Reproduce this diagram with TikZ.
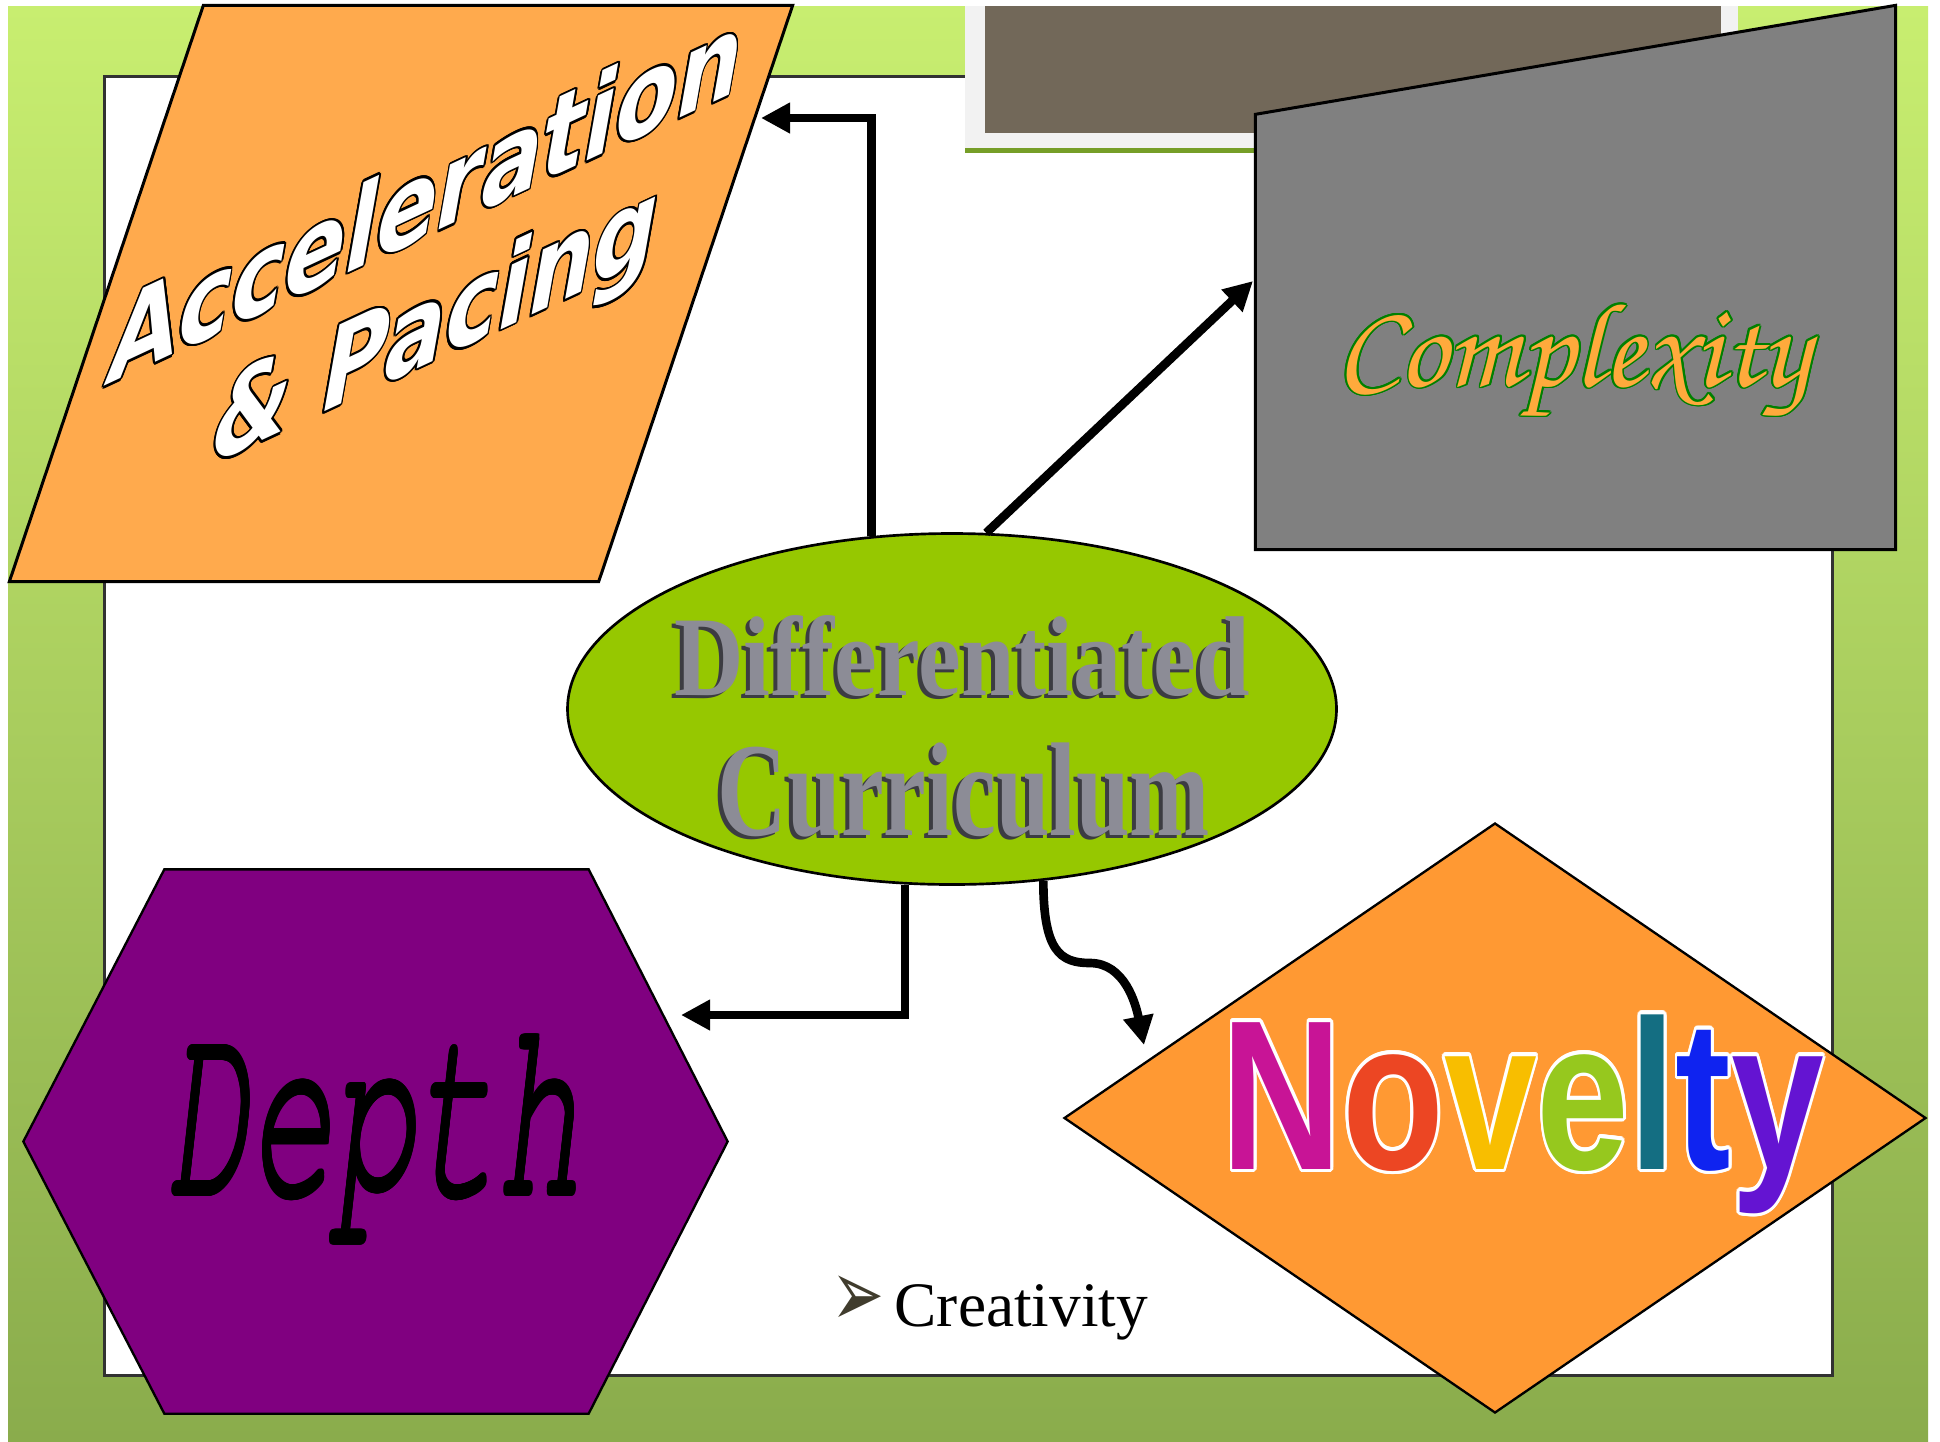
\documentclass[tikz,border=0pt]{standalone}
\usepackage{fontspec}
\setmainfont{Liberation Serif}
\newfontfamily\accfont{Liberation Sans}
\newfontfamily\dejavu{DejaVu Sans}
\usepackage{graphicx}
\usepackage{contour}
\contourlength{0.6pt}
\usetikzlibrary{shapes.geometric, arrows.meta, calc}
\newcommand{\chancery}{\fontencoding{OT1}\fontfamily{pzc}\fontseries{mb}\fontshape{it}\selectfont}
\newcommand{\courier}{\fontencoding{OT1}\fontfamily{pcr}\fontseries{m}\fontshape{sl}\selectfont}

\definecolor{bgtop}{RGB}{200,238,112}
\definecolor{bgbot}{RGB}{138,172,76}
\definecolor{panelline}{RGB}{50,50,50}
\definecolor{framegray}{RGB}{242,242,242}
\definecolor{framegreen}{RGB}{118,158,40}
\definecolor{framebrown}{RGB}{114,104,89}
\definecolor{accorange}{RGB}{255,170,77}
\definecolor{cpxgray}{RGB}{128,128,128}
\definecolor{deppurple}{RGB}{128,0,128}
\definecolor{novorange}{RGB}{255,153,51}
\definecolor{hubgreen}{RGB}{150,200,0}
\definecolor{cxorange}{RGB}{255,170,60}
\definecolor{cxgreen}{RGB}{0,128,0}
\definecolor{nvN}{RGB}{200,20,150}
\definecolor{nvo}{RGB}{236,70,35}
\definecolor{nvv}{RGB}{248,190,0}
\definecolor{nve}{RGB}{150,200,30}
\definecolor{nvl}{RGB}{20,110,130}
\definecolor{nvt}{RGB}{15,35,240}
\definecolor{nvy}{RGB}{100,20,210}
\definecolor{shadowgray}{RGB}{60,60,66}
\definecolor{facegray}{RGB}{140,140,150}
\definecolor{bulletc}{RGB}{64,60,45}

\tikzstyle{hub} = [ellipse, 
minimum width=230.7pt, 
minimum height=105.3pt, 
inner sep=0pt, 
draw=black, line width=0.8pt, 
fill=hubgreen]
\tikzstyle{kite} = [diamond, 
minimum width=258.6pt, 
minimum height=177pt, 
inner sep=0pt, 
draw=black, line width=0.7pt, 
fill=novorange]
\tikzstyle{box} = [rectangle, inner sep=0pt]
\tikzstyle{slantword} = [anchor=base west, inner sep=0pt, rotate=25, xslant=0.7, text=white, 
font=\dejavu\bfseries\fontsize{29.7}{36}\selectfont]
\tikzstyle{arrow} = [line width=2.6pt, -{Triangle[length=8.7pt,width=8.7pt]}]

\begin{document}
\begin{tikzpicture}[x=0.3pt, y=-0.3pt]
	\useasboundingbox (0,0) rectangle (1940,1441);
	\fill[white] (0,0) rectangle (1940,1441);
	
	% slide background and panel
	\shade[top color=bgtop, bottom color=bgbot] (8,6) rectangle (1928,1441);
	\draw[fill=white, draw=panelline, line width=0.9pt] (104,76) rectangle (1832,1375);
	\fill[framegreen] (965,10) rectangle (1738,153);
	\fill[framegray] (965,6) rectangle (1738,148);
	\fill[framebrown] (985,6) rectangle (1721,133);
	
	% shapes
	\node (acc) [box, minimum width=234.6pt, minimum height=172.5pt] at (401,293.5) {};
	\draw[fill=accorange, line width=0.9pt] (acc.south west) -- ($(acc.north west)+(194,0)$) -- (acc.north east) -- ($(acc.south east)+(-194,0)$) -- cycle;
	\node (cpx) [box, minimum width=191.7pt, minimum height=130.2pt] at (1575.5,332) {};
	\draw[fill=cpxgray, line width=0.9pt] (cpx.south west) -- (cpx.north west) -- ($(cpx.north east)+(0,-109)$) -- (cpx.south east) -- cycle;
	\node (dep) [box, minimum width=126.9pt, minimum height=162.9pt] at (376.5,1141.5) {};
	\draw[fill=deppurple, line width=0.7pt] (dep.north west) -- (dep.north east) -- ($(dep.east)+(139,0)$) -- (dep.south east) -- (dep.south west) -- ($(dep.west)+(-141,0)$) -- cycle;
	\node (nov) [kite] at (1495,1118) {};
	\node (dc) [hub] at (952,709) {};
	
	% texts
	\node (acctext) [slantword] at (103,387) {\contour{black}{Acceleration}};
	\node (pactext) [slantword] at (206,467) {\contour{black}{\& Pacing}};
	\node (cpxtext) [anchor=base, inner sep=0pt] at (1573,386)
		{\resizebox{142pt}{!}{\chancery\fontsize{40}{40}\selectfont\contour{cxgreen}{\textcolor{cxorange}{Complexity}}}};
	\node (deptext) [anchor=base, inner sep=0pt] at (374,1194)
		{\resizebox{124pt}{49.5pt}{\courier\fontsize{40}{40}\selectfont\contourlength{0.45pt}\contour{black}{Depth}}};
	\node (novtext) [anchor=base, inner sep=0pt] at (1523,1169)
		{\resizebox{180.7pt}{46.4pt}{\accfont\bfseries\fontsize{60}{60}\selectfont\contourlength{1pt}\contour{white}{\textcolor{nvN}{N}\textcolor{nvo}{o}\textcolor{nvv}{v}\textcolor{nve}{e}\textcolor{nvl}{l}\textcolor{nvt}{t}\textcolor{nvy}{y}}}};
	\node (dctop0) [anchor=base, inner sep=0pt, text=shadowgray] at (958,698)
		{\resizebox{172.5pt}{24pt}{\bfseries\fontsize{30}{30}\selectfont Differentiated}};
	\node (dctop) [anchor=base, inner sep=0pt, text=facegray] at (962,695)
		{\resizebox{172.5pt}{24pt}{\bfseries\fontsize{30}{30}\selectfont Differentiated}};
	\node (dcbot0) [anchor=base, inner sep=0pt, text=shadowgray] at (960,838)
		{\resizebox{147.6pt}{27.8pt}{\bfseries\fontsize{30}{30}\selectfont Curriculum}};
	\node (dcbot) [anchor=base, inner sep=0pt, text=facegray] at (964,835)
		{\resizebox{147.6pt}{27.8pt}{\bfseries\fontsize{30}{30}\selectfont Curriculum}};
	\node (crea) [anchor=base west, inner sep=0pt] at (831,1326)
		{{\dejavu\fontsize{19}{19}\selectfont\color{bulletc}\scalebox{1}[1.5]{➢}}\hspace{3pt}{\fontsize{19}{19}\selectfont Creativity}};
	
	% arrow ends
	\coordinate (acctip) at (761,118);
	\coordinate (cpxtip) at (1253,281);
	\coordinate (deptip) at (681,1015);
	\coordinate (bend) at (1090,963);
	\coordinate (novtip) at (1144,1045);
	
	\draw [arrow] (dc.115) |- (acctip);
	\draw [arrow] (dc.79) -- (cpxtip);
	\draw [arrow] (dc.255) |- (deptip);
	\draw [arrow] (dc.298) .. controls +(0,70) and +(-30,0) .. (bend) .. controls +(35,0) and +(-8,-40) .. (novtip);
\end{tikzpicture}
\end{document}
